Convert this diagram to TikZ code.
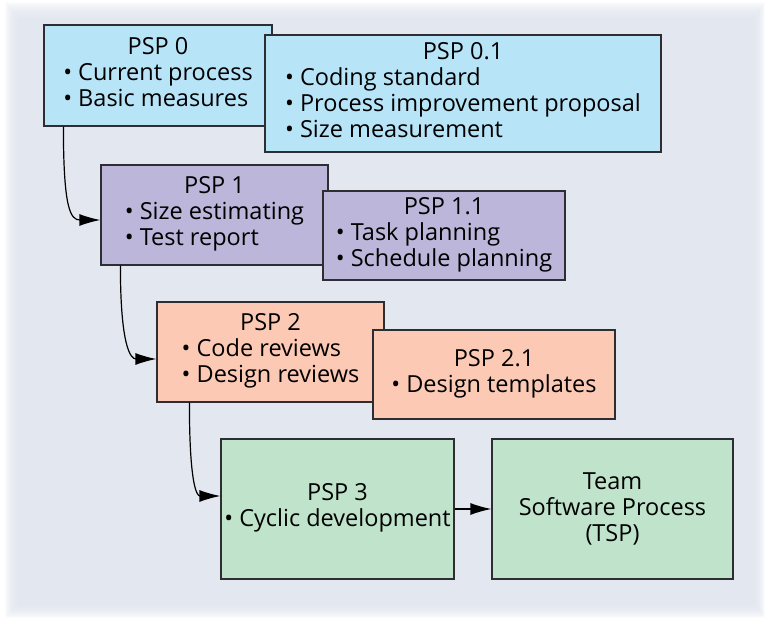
\documentclass[tikz,border=0pt]{standalone}
\usepackage{fontspec}
\setmainfont{Open Sans}
\usetikzlibrary{arrows.meta, positioning}
\definecolor{BgGray}{RGB}{223,228,238}
\definecolor{PspBlue}{RGB}{184,228,248}
\definecolor{PspViolet}{RGB}{188,182,218}
\definecolor{PspSalmon}{RGB}{252,201,180}
\definecolor{PspGreen}{RGB}{192,227,203}
\definecolor{EdgeGray}{RGB}{45,45,50}
\newcommand{\psptext}{\fontsize{23.5}{26}\selectfont}
\newcommand{\pspitems}[1]{\begin{tabular}[t]{@{}l@{}}#1\end{tabular}}
\tikzset{
  % boxes of the levels
  level/.style={draw=EdgeGray, line width=1.2pt, inner sep=1pt, align=center, font=\psptext},
  level 0/.style={level, fill=PspBlue},
  level 1/.style={level, fill=PspViolet},
  level 2/.style={level, fill=PspSalmon},
  level 3/.style={level, fill=PspGreen},
  % arrows between levels
  flow/.style={-{Latex[length=21pt,width=12pt]}, line width=1.2pt, black}
}
\begin{document}
\begin{tikzpicture}[x=1pt,y=-1pt]
    \useasboundingbox (0,0) rectangle (765,620);
    % soft backdrop
    \foreach \i in {0,...,19}
      \fill[BgGray, opacity=0.11] (5+0.8*\i,2+\i) rectangle (765-0.6*\i,618-0.8*\i);
    % PSP 0
    \node[level 0, minimum width=228pt, minimum height=101pt] (p0) at (158,75.5)
      {PSP 0\\\pspitems{\textbullet\ Current process\\\textbullet\ Basic measures}};
    \node[level 0, minimum width=396pt, minimum height=117pt] (p01) at (463,93.5)
      {PSP 0.1\\\pspitems{\textbullet\ Coding standard\\\textbullet\ Process improvement proposal\\\textbullet\ Size measurement}};
    % PSP 1
    \node[level 1, minimum width=227pt, minimum height=100pt] (p1) at (214.5,215)
      {PSP 1\\\pspitems{\textbullet\ Size estimating\\\textbullet\ Test report}};
    \node[level 1, minimum width=242pt, minimum height=89pt] (p11) at (444,235.5)
      {PSP 1.1\\\pspitems{\textbullet\ Task planning\\\textbullet\ Schedule planning}};
    % PSP 2
    \node[level 2, minimum width=227pt, minimum height=100pt] (p2) at (270.5,352)
      {PSP 2\\\pspitems{\textbullet\ Code reviews\\\textbullet\ Design reviews}};
    \node[level 2, minimum width=242pt, minimum height=89pt] (p21) at (494,374.5)
      {PSP 2.1\\\pspitems{\textbullet\ Design templates}};
    % PSP 3 and TSP
    \node[level 3, minimum width=233pt, minimum height=140pt] (p3) at (337.5,509)
      {PSP 3\\\pspitems{\textbullet\ Cyclic development}};
    \node[level 3, minimum width=241pt, minimum height=140pt] (tsp) at (612.5,509)
      {Team\\Software Process\\(TSP)};
    % arrows
    \draw[flow] ([xshift=20pt]p0.south west) .. controls +(0,82) and +(-30,0) .. ([yshift=-5pt]p1.west);
    \draw[flow] ([xshift=20pt]p1.south west) .. controls +(0,80) and +(-26,0) .. ([yshift=-7pt]p2.west);
    \draw[flow] ([xshift=33pt]p2.south west) .. controls +(0,80) and +(-24,0) .. ([yshift=13pt]p3.west);
    \draw[flow] (p3) -- (tsp);
\end{tikzpicture}
\end{document}
